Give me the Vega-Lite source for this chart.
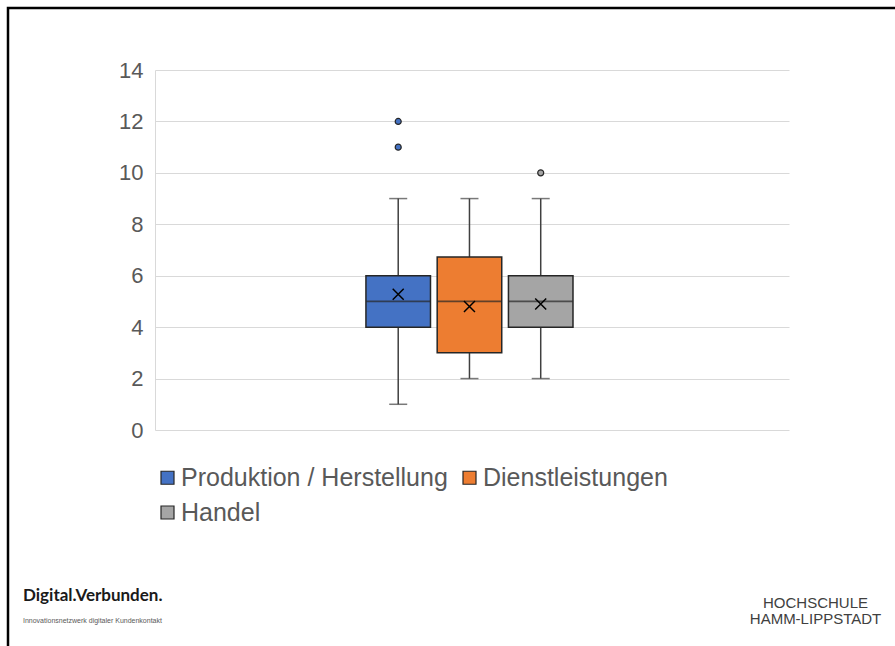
{
  "$schema": "https://vega.github.io/schema/vega-lite/v6.json",
  "autosize": {"type": "none"},
  "padding": {"left": 8, "top": 8, "right": 0, "bottom": 0},
  "width": 887,
  "height": 638,
  "background": "white",
  "config": {
    "view": {"stroke": "#000000", "strokeWidth": 2.5, "strokeDash": [887, 1525, 638]},
    "font": "Liberation Sans"
  },
  "title": {
    "text": "Digital.Verbunden.",
    "subtitle": "Innovationsnetzwerk digitaler Kundenkontakt",
    "orient": "top",
    "anchor": "start",
    "frame": "group",
    "offset": -617,
    "dx": 15,
    "font": "Lato",
    "fontSize": 17,
    "fontWeight": "bold",
    "color": "#1a1a1a",
    "subtitleFont": "Liberation Sans",
    "subtitleFontSize": 7,
    "subtitleColor": "#595959",
    "subtitlePadding": 12
  },
  "datasets": {
    "boxes": [
      {"series": "Produktion / Herstellung", "min": 1, "q1": 4, "median": 5, "q3": 6, "max": 9, "mean": 5.28},
      {"series": "Dienstleistungen", "min": 2, "q1": 3, "median": 5, "q3": 6.73, "max": 9, "mean": 4.8},
      {"series": "Handel", "min": 2, "q1": 4, "median": 5, "q3": 6, "max": 9, "mean": 4.9}
    ],
    "outliers": [
      {"series": "Produktion / Herstellung", "value": 12},
      {"series": "Produktion / Herstellung", "value": 11},
      {"series": "Handel", "value": 10}
    ]
  },
  "encoding": {
    "x": {
      "datum": "Gruppe",
      "type": "nominal",
      "scale": {"range": [147, 781], "paddingInner": 0, "paddingOuter": 1, "align": 0.494},
      "axis": {
        "labels": false, "ticks": false, "domain": false, "grid": false,
        "title": ["HOCHSCHULE", "HAMM-LIPPSTADT"],
        "titleX": 807, "titleY": -39,
        "titleAlign": "center", "titleBaseline": "alphabetic",
        "titleFont": "Liberation Sans", "titleFontSize": 15, "titleFontWeight": "normal",
        "titleColor": "#404040", "titleLineHeight": 16
      }
    },
    "xOffset": {
      "field": "series",
      "type": "nominal",
      "sort": ["Produktion / Herstellung", "Dienstleistungen", "Handel"],
      "scale": {"paddingInner": 0.094, "paddingOuter": 0.03}
    }
  },
  "layer": [
    {
      "data": {"name": "boxes"},
      "mark": {"type": "rule", "color": "#404040", "strokeWidth": 1.5},
      "encoding": {
        "y": {
          "field": "min", "type": "quantitative",
          "scale": {"domain": [0, 14], "range": [422, 62], "nice": false, "zero": false},
          "axis": {
            "values": [0, 2, 4, 6, 8, 10, 12, 14],
            "title": null,
            "offset": -147,
            "ticks": false, "tickSize": 0,
            "labelPadding": 12,
            "labelFont": "Liberation Sans", "labelFontSize": 22, "labelColor": "#595959",
            "domain": true, "domainColor": "#D9D9D9", "domainWidth": 1,
            "grid": true, "gridColor": "#D9D9D9", "gridWidth": 1.2
          }
        },
        "y2": {"field": "max"}
      }
    },
    {
      "data": {"name": "boxes"},
      "mark": {"type": "bar", "stroke": "#262626", "strokeWidth": 1.5},
      "encoding": {
        "y": {"field": "q1", "type": "quantitative"},
        "y2": {"field": "q3"},
        "fill": {
          "field": "series", "type": "nominal",
          "sort": ["Produktion / Herstellung", "Dienstleistungen", "Handel"],
          "scale": {"domain": ["Produktion / Herstellung", "Dienstleistungen", "Handel"], "range": ["#4472C4", "#ED7D31", "#A5A5A5"]},
          "legend": {
            "orient": "none", "legendX": 147, "legendY": 457,
            "direction": "horizontal",
            "columns": 2, "title": null, "padding": 0,
            "symbolType": "square", "symbolSize": 169,
            "symbolStrokeColor": "#262626", "symbolStrokeWidth": 1.2,
            "labelFont": "Liberation Sans", "labelFontSize": 25, "labelColor": "#595959",
            "labelOffset": 1, "columnPadding": 9, "rowPadding": 9, "labelLimit": 400
          }
        }
      }
    },
    {
      "data": {"name": "boxes"},
      "mark": {"type": "tick", "color": "#262626", "size": 64, "thickness": 1.8},
      "encoding": {"y": {"field": "median", "type": "quantitative"}}
    },
    {
      "data": {"name": "boxes"},
      "mark": {"type": "tick", "color": "#404040", "size": 18, "thickness": 1.5},
      "encoding": {"y": {"field": "min", "type": "quantitative"}}
    },
    {
      "data": {"name": "boxes"},
      "mark": {"type": "tick", "color": "#404040", "size": 18, "thickness": 1.5},
      "encoding": {"y": {"field": "max", "type": "quantitative"}}
    },
    {
      "data": {"name": "boxes"},
      "mark": {"type": "point", "shape": "M-1,-1L1,1M-1,1L1,-1", "filled": false, "stroke": "#000000", "strokeWidth": 1.5, "size": 121, "opacity": 1},
      "encoding": {"y": {"field": "mean", "type": "quantitative"}}
    },
    {
      "data": {"name": "outliers"},
      "mark": {"type": "point", "shape": "circle", "filled": true, "stroke": "#262626", "strokeWidth": 1.2, "size": 36, "opacity": 1},
      "encoding": {
        "y": {"field": "value", "type": "quantitative"},
        "fill": {"field": "series", "type": "nominal", "legend": null}
      }
    }
  ]
}
